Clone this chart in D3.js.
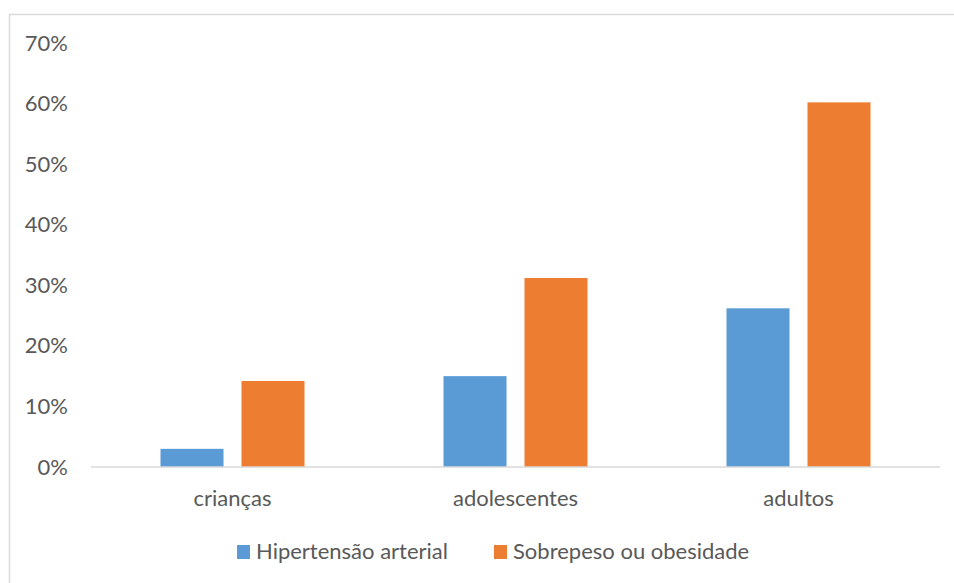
<!DOCTYPE html>
<html><head><meta charset="utf-8">
<script src="https://cdn.jsdelivr.net/npm/d3@7"></script>
<style>body{margin:0;background:#fff}svg{display:block}text{font-family:Lato,"Liberation Sans",sans-serif;fill:#595959}</style>
</head><body><svg id="c" width="954" height="583"></svg>
<script>
const categories = ["crianças", "adolescentes", "adultos"];
const seriesNames = ["Hipertensão arterial", "Sobrepeso ou obesidade"];
const hipertensao = [0.03, 0.15, 0.262];
const sobrepeso = [0.142, 0.312, 0.602];
const yTicks = [0, 0.1, 0.2, 0.3, 0.4, 0.5, 0.6, 0.7];
const colors = ["#5b9bd5", "#ed7d31"];

const FS = 22;
const svg = d3.select("#c");
svg.append("rect").attr("x", 9.5).attr("y", 14.5).attr("width", 1000).attr("height", 1000)
  .attr("fill", "none").attr("stroke", "#d9d9d9").attr("stroke-width", 1.5);

const x0 = 91, x1 = 940;
const y = d3.scaleLinear().domain([0, 0.7]).range([467, 43]);
const x = d3.scaleBand().domain(categories).range([x0, x1]).paddingInner(0).paddingOuter(0);
const xs = d3.scaleBand().domain(seriesNames).range([0, x.bandwidth()]).paddingInner(0.222).paddingOuter(0.858);

const data = [hipertensao, sobrepeso];
seriesNames.forEach((s, si) => {
  svg.append("g").selectAll("rect").data(categories).join("rect")
    .attr("x", c => x(c) + xs(s))
    .attr("width", xs.bandwidth())
    .attr("y", (c, i) => y(data[si][i]))
    .attr("height", (c, i) => y(0) - y(data[si][i]))
    .attr("fill", colors[si]);
});

svg.append("line").attr("x1", x0).attr("x2", x1).attr("y1", y(0)).attr("y2", y(0))
  .attr("stroke", "#d9d9d9").attr("stroke-width", 1.5);

const yAxis = d3.axisLeft(y).tickValues(yTicks).tickFormat(d3.format(".0%")).tickSize(0).tickPadding(0);
const ga = svg.append("g").attr("transform", "translate(68,0)").call(yAxis);
ga.select(".domain").remove();
ga.selectAll("text").attr("font-size", FS).attr("font-family", "Lato,'Liberation Sans',sans-serif").attr("fill", "#595959");

const xAxis = d3.axisBottom(x).tickSize(0).tickPadding(0);
const gx = svg.append("g").attr("transform", "translate(0,490)").call(xAxis);
gx.select(".domain").remove();
gx.selectAll("text").attr("font-size", FS).attr("font-family", "Lato,'Liberation Sans',sans-serif").attr("fill", "#595959").attr("dy", "0.71em");

const legX = [237, 494];
const leg = svg.append("g");
seriesNames.forEach((s, i) => {
  leg.append("rect").attr("x", legX[i]).attr("y", 545).attr("width", 13).attr("height", 14).attr("fill", colors[i]);
  leg.append("text").attr("x", legX[i] + 19).attr("y", 559).attr("font-size", FS).text(s);
});
</script></body></html>
